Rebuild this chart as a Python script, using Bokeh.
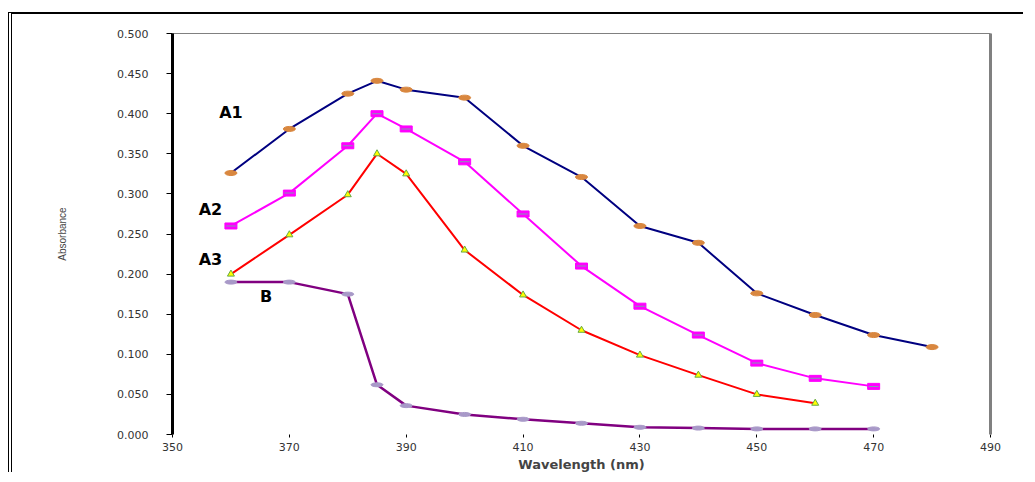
from bokeh.plotting import figure
from bokeh.models import LinearAxis, FixedTicker, Range1d, ColumnDataSource, PrintfTickFormatter
from bokeh.core.properties import value
from bokeh.embed import file_html
from bokeh.resources import INLINE

# ---- data ----
wl_a1 = [360, 370, 380, 385, 390, 400, 410, 420, 430, 440, 450, 460, 470, 480]
abs_a1 = [0.326, 0.381, 0.425, 0.441, 0.430, 0.420, 0.360, 0.321, 0.260, 0.239, 0.176, 0.149, 0.124, 0.109]

wl_a2 = [360, 370, 380, 385, 390, 400, 410, 420, 430, 440, 450, 460, 470]
abs_a2 = [0.260, 0.301, 0.360, 0.400, 0.381, 0.340, 0.275, 0.210, 0.160, 0.124, 0.089, 0.070, 0.060]

wl_a3 = [360, 370, 380, 385, 390, 400, 410, 420, 430, 440, 450, 460]
abs_a3 = [0.200, 0.249, 0.299, 0.350, 0.325, 0.230, 0.174, 0.130, 0.099, 0.074, 0.050, 0.039]

wl_b = [360, 370, 380, 385, 390, 400, 410, 420, 430, 440, 450, 460, 470]
abs_b = [0.190, 0.190, 0.175, 0.062, 0.036, 0.025, 0.019, 0.014, 0.009, 0.008, 0.007, 0.007, 0.007]

curve_names = ["A1", "A2", "A3", "B"]
name_x = [360.0, 356.5, 356.5, 366.0]
name_y = [0.402, 0.280, 0.218, 0.172]

x_ticks = [350, 370, 390, 410, 430, 450, 470, 490]
y_ticks = [0.0, 0.05, 0.10, 0.15, 0.20, 0.25, 0.30, 0.35, 0.40, 0.45, 0.50]

p = figure(width=1015, height=460, output_backend="svg", toolbar_location=None,
           x_range=Range1d(350, 490), y_range=Range1d(0, 0.5),
           min_border_left=160, min_border_right=37, min_border_top=19, min_border_bottom=38,
           x_axis_location=None, y_axis_location=None)
p.styles = {"border-top": "2px solid black", "border-left": "4px double black",
            "margin-top": "12px", "margin-left": "8px"}
p.outline_line_color = None
p.grid.visible = False
p.background_fill_color = "white"
p.border_fill_color = "white"

tick_font = "DejaVu Sans"

# left axis
ly = LinearAxis(ticker=FixedTicker(ticks=y_ticks), axis_label="Absorbance")
ly.formatter = PrintfTickFormatter(format="%.3f")
ly.axis_line_color = "black"
ly.axis_line_width = 3
ly.major_tick_line_color = "black"
ly.major_tick_out = 6
ly.major_tick_in = 0
ly.minor_tick_line_color = None
ly.major_label_standoff = 18
ly.major_label_text_font = tick_font
ly.major_label_text_font_size = "11px"
ly.major_label_text_color = "#333333"
ly.axis_label_text_font = "Liberation Sans"
ly.axis_label_text_font_size = "10px"
ly.axis_label_text_font_style = "normal"
ly.axis_label_standoff = 46
p.add_layout(ly, "left")

# bottom axis
bx = LinearAxis(ticker=FixedTicker(ticks=x_ticks), axis_label="Wavelength (nm)")
bx.axis_line_color = None
bx.major_tick_line_color = "black"
bx.major_tick_out = 3
bx.major_tick_in = 0
bx.minor_tick_line_color = None
bx.major_label_standoff = 5
bx.major_label_text_font = tick_font
bx.major_label_text_font_size = "11px"
bx.major_label_text_color = "#333333"
bx.axis_label_text_font = "DejaVu Sans"
bx.axis_label_text_font_size = "13px"
bx.axis_label_text_font_style = "bold"
bx.axis_label_standoff = 3
p.add_layout(bx, "below")

# top and right frame lines
ta = LinearAxis(ticker=FixedTicker(ticks=[]))
ta.axis_line_color = "#808080"
ta.axis_line_width = 1
ta.major_tick_line_color = None
ta.minor_tick_line_color = None
ta.major_label_text_font_size = "0px"
p.add_layout(ta, "above")

ra = LinearAxis(ticker=FixedTicker(ticks=[]))
ra.axis_line_color = "#808080"
ra.axis_line_width = 3
ra.major_tick_line_color = None
ra.minor_tick_line_color = None
ra.major_label_text_font_size = "0px"
p.add_layout(ra, "right")

# series
p.line(wl_a1, abs_a1, line_color="#000080", line_width=2)
p.line(wl_a2, abs_a2, line_color="#FF00FF", line_width=2)
p.line(wl_a3, abs_a3, line_color="#FF0000", line_width=2)
p.line(wl_b, abs_b, line_color="#800080", line_width=2.5)

p.ellipse(wl_a1, abs_a1, width=12, height=5, width_units="screen", height_units="screen",
          fill_color="#D9873F", line_color="#D9873F")
p.rect(wl_a2, abs_a2, width=12, height=6, width_units="screen", height_units="screen",
       fill_color="#FF00FF", line_color="#FF00FF")
p.rect(wl_a2, abs_a2, width=10, height=1, width_units="screen", height_units="screen",
       fill_color="#7FA0B0", line_color=None)
p.scatter(wl_a3, abs_a3, marker="triangle", size=7, fill_color="#FFFF00", line_color="#66AA44",
          line_width=1)
p.ellipse(wl_b, abs_b, width=12, height=4, width_units="screen", height_units="screen",
          fill_color="#A899C8", line_color="#A899C8")

src = ColumnDataSource(dict(x=name_x, y=name_y, t=curve_names))
p.text(x="x", y="y", text="t", source=src, text_align="center", text_baseline="middle",
       text_font=value("DejaVu Sans"), text_font_size="16px", text_font_style="bold",
       text_color="black")

open("out.html", "w").write(file_html(p, INLINE))
